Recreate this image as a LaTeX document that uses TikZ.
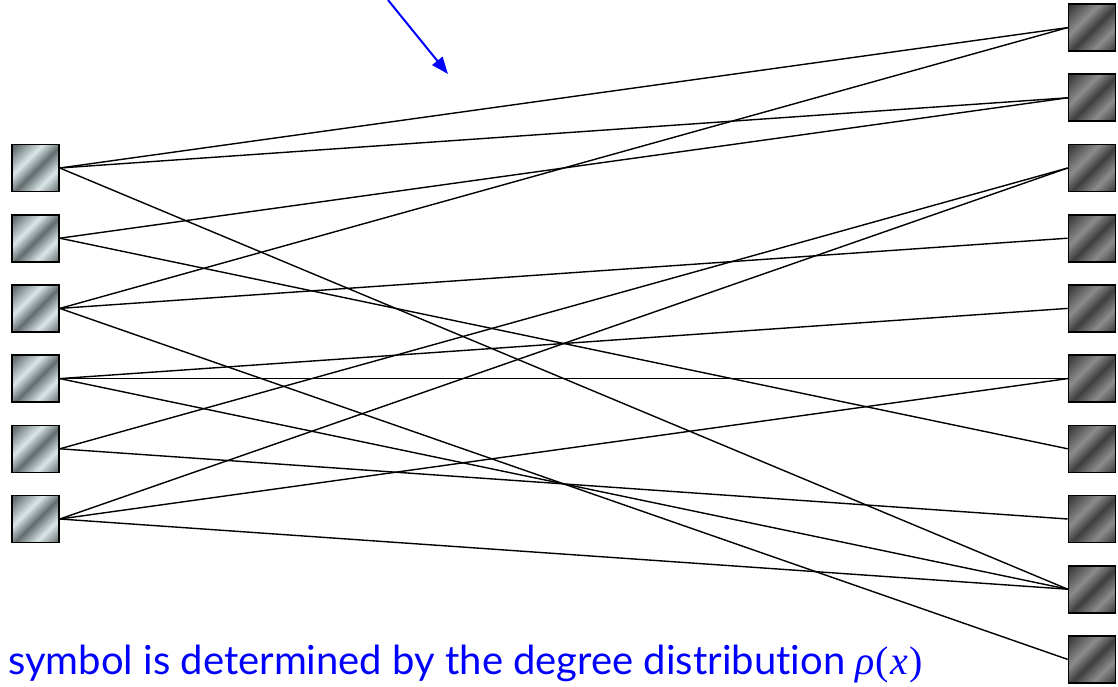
\documentclass[tikz,border=0pt]{standalone}
\usepackage{fontspec}
\setmainfont[Ligatures=NoCommon]{Lato}
\newfontfamily\greekfont{Liberation Serif}
\usetikzlibrary{arrows.meta}
\definecolor{lA}{RGB}{98,108,110}
\definecolor{lB}{RGB}{218,230,232}
\definecolor{lC}{RGB}{105,114,116}
\definecolor{rA}{RGB}{62,62,62}
\definecolor{rB}{RGB}{140,140,140}
\definecolor{textblue}{RGB}{0,0,255}
\pgfdeclarehorizontalshading{lsq}{100bp}{color(0bp)=(lA); color(18bp)=(lA); color(38bp)=(lB); color(52bp)=(lA); color(68bp)=(lB); color(84bp)=(lC); color(100bp)=(lC)}
\pgfdeclarehorizontalshading{rsq}{100bp}{color(0bp)=(rA); color(18bp)=(rA); color(38bp)=(rB); color(52bp)=(rA); color(68bp)=(rB); color(84bp)=(rA); color(100bp)=(rA)}
\tikzset{
  sqbase/.style={rectangle, minimum width=47pt, minimum height=47pt, inner sep=0pt, draw=black, line width=1.6pt},
  leftsq/.style={sqbase, shading=lsq, shading angle=-45},
  rightsq/.style={sqbase, shading=rsq, shading angle=-45},
  edge/.style={draw=black, line width=1.4pt},
  pointer/.style={draw=textblue, line width=2pt, -{Triangle[length=17pt, width=13pt]}}
}
\begin{document}
\begin{tikzpicture}[x=1pt,y=-1pt]
\useasboundingbox (0,0) rectangle (1118,687);
% left nodes
\foreach \i/\yy in {1/168,2/238.2,3/308.4,4/378.6,5/448.8,6/519}{
  \node[leftsq] (L\i) at (35.5,\yy) {};
}
% right nodes
\foreach \i/\yy in {1/27.6,2/97.8,3/168,4/238.2,5/308.4,6/378.6,7/448.8,8/519,9/589.2,10/659.4}{
  \node[rightsq] (R\i) at (1092,\yy) {};
}
% edges
\foreach \a/\b in {1/1,1/2,1/9,2/2,2/7,3/1,3/4,3/10,4/5,4/6,4/9,5/3,5/8,6/3,6/6,6/9}{
  \draw[edge] (L\a.east) -- (R\b.west);
}
% arrow
\coordinate (pstart) at (388,0);
\coordinate (pend) at (448,74);
\draw[pointer] (pstart) -- (pend);
% caption
\node[anchor=base west, inner sep=0pt, text=textblue, font=\fontsize{40}{44}\selectfont] (cap) at (8,674) {symbol is determined by the degree distribution {\greekfont\itshape ρ}\kern1pt{\greekfont(}\kern1pt{\greekfont\itshape x}\kern2pt{\greekfont)}};
\end{tikzpicture}
\end{document}
